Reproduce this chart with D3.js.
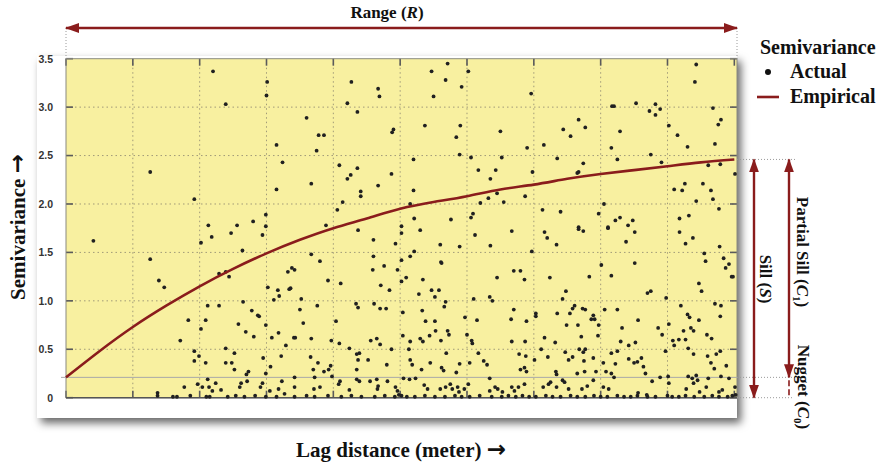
<!DOCTYPE html>
<html>
<head>
<meta charset="utf-8">
<script src="https://cdn.jsdelivr.net/npm/d3@7"></script>
<style>
  body { margin: 0; background: #fff; }
  svg { display: block; }
  .serif { font-family: "Liberation Serif", "Times New Roman", serif; font-weight: bold; fill: #111; }
  .arr { font-family: "DejaVu Sans", sans-serif; font-weight: bold; }
</style>
</head>
<body>
<svg id="chart" width="884" height="468"></svg>
<script>

// Axis ticks
var lagTicks = [0, 1000, 2000, 3000, 4000, 5000, 6000, 7000, 8000, 9000, 10000];
var semiTicks = [0, 0.5, 1.0, 1.5, 2.0, 2.5, 3.0, 3.5];
var semiTickLabels = ["0", "0.5", "1.0", "1.5", "2.0", "2.5", "3.0", "3.5"];

// Empirical (fitted) semivariogram, read every 500 m
var empiricalLag = [0, 500, 1000, 1500, 2000, 2500, 3000, 3500, 4000, 4500, 5000,
                    5500, 6000, 6500, 7000, 7500, 8000, 8500, 9000, 9500, 10000];
var empiricalSemi = [0.21, 0.48, 0.73, 0.95, 1.15, 1.33, 1.49, 1.63, 1.75, 1.85, 1.95,
                     2.02, 2.08, 2.15, 2.20, 2.26, 2.31, 2.35, 2.39, 2.43, 2.46];

// Model parameters shown by the annotations
var nugget = 0.21;
var sill = 2.46;

// Actual semivariance points [lag, semivariance]
var actualUpper = [
  [2200,3.37],[3010,3.26],[3000,3.12],[2390,3.03],[3150,2.61],[3240,2.43],[1260,2.33],[3150,2.15],[1920,2.05],
  [2990,1.89],[2800,1.82],[2560,1.78],[2130,1.78],[2990,1.77],
  [5710,3.45],[5470,3.37],[6020,3.37],[5680,3.28],[4270,3.26],[4670,3.19],[5920,3.21],[4690,3.11],[5500,3.11],
  [4210,3.04],[4360,2.95],[3600,2.89],[5370,2.81],[5900,2.81],[4900,2.77],[4880,2.74],[3780,2.71],[3860,2.71],
  [6500,2.75],[5840,2.69],[3750,2.55],[5890,2.51],[6060,2.48],[6520,2.48],[5200,2.46],[4090,2.40],[4360,2.37],
  [6170,2.35],[6430,2.35],[4260,2.30],[4210,2.26],[4870,2.31],[6350,2.26],[3670,2.21],[4670,2.19],[5200,2.14],
  [4410,2.13],[4410,2.08],[6450,2.11],[6320,2.06],[4140,2.02],[6200,2.01],[6550,2.02],[5150,2.00],[4060,1.94],
  [6090,1.90],[6060,1.86],[5210,1.85],[5760,1.84],[3890,1.78],[5020,1.77],
  [9430,3.44],[9410,3.26],[6960,3.14],[8170,3.01],[8200,3.01],[8530,3.04],[8820,3.03],[8730,2.96],[8890,2.98],
  [8820,2.92],[9680,2.99],[9800,2.87],[9760,2.82],[7670,2.87],[7770,2.79],[9020,2.81],[7440,2.77],[7550,2.70],
  [8290,2.75],[9150,2.71],[6900,2.58],[7150,2.61],[8160,2.58],[9300,2.59],[9710,2.62],[8750,2.51],[7350,2.47],
  [8250,2.46],[8910,2.43],[7740,2.42],[9610,2.40],[9790,2.41],[7670,2.33],[7650,2.32],[6980,2.33],[10010,2.31],
  [6870,2.08],[9100,2.15],[9260,2.21],[9220,2.14],[9530,2.21],[9650,2.14],[9680,2.05],[9430,2.03],[9770,1.95],
  [8050,2.00],[7130,1.94],[7400,1.92],[7970,1.90],[9180,1.85],[9320,1.88],[8290,1.86],[8220,1.83],[8480,1.83],
  [8410,1.78],[8110,1.76],[7670,1.76]
];

var actualLeft = [
  [410,1.62],[1260,1.43],[1390,1.21],[1470,1.14],[2020,1.60],[2180,1.66],[2470,1.70],[2940,1.68],[2640,1.52],
  [2290,1.28],[2390,1.30],[2440,1.25],[3320,1.30],[3020,1.14],[3170,1.11],[3190,1.05],[3110,1.01],[3340,1.12],
  [2120,0.95],[2290,0.95],[2650,0.99],[2780,0.90],[2870,0.85],[2890,0.84],[1830,0.80],[2090,0.80],[2580,0.76],
  [2990,0.75],[2020,0.71],[2690,0.68],[2810,0.63],[3180,0.67],[3080,0.62],[3290,0.54],[1710,0.59],[1920,0.48],
  [1990,0.43],[1920,0.38],[2090,0.36],[2390,0.51],[2520,0.46],[2390,0.36],[2480,0.36],[2520,0.29],[2950,0.41],
  [3220,0.43],[3060,0.32],[2990,0.25],[2730,0.27],[2700,0.24],[2120,0.19],[2240,0.15],[1970,0.14],[1770,0.11],
  [2040,0.11],[2140,0.11],[2190,0.07],[2320,0.08],[2620,0.15],[2600,0.11],[2710,0.17],[2940,0.15],[2910,0.11],
  [3050,0.07],[3230,0.17],[3180,0.09],[3270,0.04],[1370,0.05],[1370,0.02],[1600,0.01],[1660,0.01],[1860,0.02],
  [2100,0.01],[2150,0.01],[2420,0.01],[2540,0.02],[2670,0.01],[2830,0.02],[2990,0.01],[3150,0.01]
];

var actualMiddle = [
  [4370,1.73],[5300,1.73],[6120,1.68],[6670,1.72],[4600,1.63],[4930,1.59],[5020,1.70],[5600,1.58],[5890,1.56],
  [6350,1.57],[3670,1.48],[3800,1.41],[4600,1.46],[5150,1.46],[5210,1.51],[5020,1.42],[5610,1.40],[5620,1.39],
  [3380,1.34],[3420,1.32],[4590,1.32],[4760,1.36],[4960,1.32],[5090,1.24],[5020,1.20],[5340,1.22],[6450,1.24],
  [3920,1.21],[4110,1.18],[3360,1.13],[4710,1.16],[4840,1.11],[5280,1.07],[5470,1.11],[5580,1.11],[5520,1.04],
  [5680,0.99],[5660,0.94],[6100,1.02],[6340,1.04],[6380,1.00],[3520,1.02],[3500,0.91],[3760,0.95],[4340,0.97],
  [4370,0.93],[4610,0.97],[4700,0.92],[4790,0.92],[5040,0.88],[5330,0.90],[5380,0.79],[5520,0.79],[5970,0.83],
  [6150,0.80],[6660,0.81],[3550,0.77],[4040,0.79],[3410,0.62],[3430,0.62],[3670,0.61],[3970,0.59],[4090,0.56],
  [4560,0.59],[4650,0.61],[4700,0.55],[5040,0.64],[5150,0.58],[5300,0.61],[5340,0.58],[5440,0.64],[5530,0.69],
  [5710,0.69],[5730,0.65],[5610,0.59],[6000,0.65],[6070,0.59],[6080,0.56],[6670,0.58],[4240,0.51],[4390,0.46],
  [4350,0.45],[4870,0.50],[5130,0.50],[5690,0.46],[6170,0.46],[6250,0.38],[6300,0.34],[3660,0.42],[3770,0.36],
  [3700,0.29],[3860,0.27],[3930,0.29],[3960,0.33],[4520,0.39],[4370,0.39],[4800,0.34],[5150,0.39],[5180,0.34],
  [5320,0.29],[5450,0.36],[5620,0.31],[5650,0.28],[5840,0.26],[5890,0.35],[6040,0.36],[4350,0.29],[3420,0.21],
  [3420,0.11],[3720,0.21],[3800,0.11],[3710,0.09],[3980,0.22],[4100,0.17],[4080,0.14],[4240,0.08],[4350,0.19],
  [4390,0.17],[4550,0.17],[4650,0.19],[4670,0.12],[4660,0.09],[4810,0.17],[4930,0.11],[4960,0.07],[4980,0.03],
  [5050,0.20],[5140,0.19],[5230,0.20],[5360,0.13],[5410,0.09],[5600,0.09],[5680,0.11],[5750,0.14],[5780,0.09],
  [5860,0.11],[5880,0.06],[5960,0.09],[6020,0.14],[6340,0.20],[6420,0.11],[6460,0.09],[6530,0.06],[6670,0.11],
  [6340,0.07],
  [3420,0.01],[3600,0.02],[3720,0.01],[3920,0.02],[4120,0.01],[4270,0.02],[4420,0.01],[4620,0.01],[4770,0.02],
  [4920,0.01],[5020,0.02],[5100,0.01],[5220,0.01],[5370,0.02],[5520,0.01],[5670,0.01],[5820,0.02],[5920,0.01],
  [6040,0.01],[6190,0.02],[6370,0.01],[6520,0.01],[6620,0.02]
];

var actualRight = [
  [7160,1.71],[7200,1.65],[7340,1.58],[7670,1.74],[7740,1.72],[8110,1.75],[8380,1.61],[8510,1.71],[8510,1.39],
  [9180,1.71],[9270,1.59],[9380,1.65],[9780,1.56],[9550,1.49],[9570,1.41],[9840,1.44],[9870,1.34],[9920,1.38],
  [9960,1.25],[9980,1.25],[6970,1.51],[6700,1.31],[6800,1.31],[6860,1.22],[7240,1.24],[7830,1.25],[8010,1.37],
  [8160,1.26],[8700,1.08],[8750,1.10],[8980,1.03],[9470,1.18],[9510,1.10],[7480,1.10],[7430,1.02],[6700,0.91],
  [7030,0.87],[7030,0.84],[6890,0.79],[7350,0.87],[7490,0.75],[7540,0.87],[7580,0.92],[7610,0.95],[7730,0.92],
  [7770,0.91],[7660,0.75],[7890,0.85],[7860,0.81],[7910,0.81],[7970,0.75],[8060,0.91],[8250,0.91],[8560,0.80],
  [8320,0.72],[7960,0.64],[7710,0.63],[7160,0.62],[6870,0.58],[7320,0.57],[8300,0.58],[8420,0.54],[8520,0.57],
  [8860,0.72],[8920,0.65],[9020,0.76],[9200,0.95],[9300,0.86],[9330,0.83],[9350,0.72],[9390,0.69],[9470,0.80],
  [9240,0.69],[9170,0.60],[9080,0.59],[9270,0.60],[9710,0.97],[9800,0.95],[9790,0.84],[9590,0.65],[9660,0.61],
  [9310,0.51],[9390,0.45],[9100,0.54],[8970,0.48],[9600,0.43],[9730,0.45],[9790,0.48],[9650,0.36],[9700,0.30],
  [9880,0.33],[6780,0.45],[6880,0.43],[7110,0.50],[7210,0.42],[7010,0.39],[6800,0.29],[6860,0.31],[6890,0.27],
  [7470,0.47],[7580,0.42],[7520,0.39],[7680,0.50],[7770,0.50],[7740,0.47],[7750,0.38],[7890,0.41],[7330,0.27],
  [7340,0.24],[7760,0.27],[7650,0.25],[7930,0.27],[8040,0.36],[8160,0.46],[8250,0.48],[8080,0.27],[8160,0.25],
  [8200,0.21],[8420,0.40],[8500,0.36],[8550,0.37],[8610,0.41],[8640,0.32],[8670,0.25],[8220,0.35],[8770,0.17],
  [8890,0.21],[9010,0.22],[9020,0.15],[9310,0.22],[9370,0.20],[9430,0.23],[9450,0.18],[9390,0.15],[9610,0.20],
  [9800,0.22],[9920,0.20],[9580,0.11],[9770,0.06],[7250,0.16],[7220,0.14],[7140,0.11],[7430,0.18],[7460,0.16],
  [7340,0.11],[7520,0.09],[6860,0.14],[6770,0.11],[6710,0.07],[7890,0.18],[7800,0.12],[7720,0.09],[8040,0.11],
  [8120,0.09],[8560,0.05],[8690,0.03],[9280,0.09],[9480,0.06],[9820,0.08],[10010,0.11],[10020,0.03],
  [6730,0.01],[6830,0.02],[6930,0.01],[7030,0.01],[7180,0.02],[7280,0.01],[7400,0.01],[7550,0.02],[7650,0.01],
  [7770,0.01],[7900,0.02],[8000,0.01],[8100,0.01],[8250,0.02],[8350,0.01],[8450,0.01],[8550,0.02],[8700,0.01],
  [8820,0.01],[9000,0.02],[9070,0.01],[9170,0.01],[9270,0.02],[9400,0.01],[9550,0.01],[9670,0.02],[9770,0.01],
  [9900,0.01],[9970,0.02]
];

(function(d3) {

  var actual = actualUpper.concat(actualLeft, actualMiddle, actualRight);
  var empirical = empiricalLag.map(function(d, i) { return [d, empiricalSemi[i]]; });

  var red = "#8a1c1c";

  // Plot frame
  var plot = { left: 66, right: 737, top: 58.7, bottom: 397.7 };

  var x = d3.scaleLinear()
    .domain([0, 10040])
    .range([plot.left, plot.right])
    ;

  var y = d3.scaleLinear()
    .domain([0, 3.5])
    .range([plot.bottom, plot.top])
    ;

  var svg = d3.select("#chart");

  //** Defs **//

  var defs = svg.append("defs");

  defs.append("filter")
    .attr("id", "shadow")
    .attr("x", "-5%").attr("y", "-5%")
    .attr("width", "115%").attr("height", "120%")
    .append("feDropShadow")
    .attr("dx", 4)
    .attr("dy", 5)
    .attr("stdDeviation", 4.5)
    .attr("flood-color", "#000")
    .attr("flood-opacity", 0.6)
    ;

  defs.append("clipPath")
    .attr("id", "panelClip")
    .append("rect")
    .attr("x", 30).attr("y", 50)
    .attr("width", plot.right - 30).attr("height", 380)
    ;

  defs.append("marker")
    .attr("id", "arrow")
    .attr("viewBox", "0 -5 14 10")
    .attr("refX", 13)
    .attr("refY", 0)
    .attr("markerUnits", "userSpaceOnUse")
    .attr("markerWidth", 14)
    .attr("markerHeight", 10)
    .attr("orient", "auto-start-reverse")
    .append("path")
    .attr("d", "M0,-5L14,0L0,5Z")
    .attr("fill", red)
    ;

  //** Panel **//

  svg.append("rect")
    .attr("x", 37)
    .attr("y", 56)
    .attr("width", plot.right - 37)
    .attr("height", 362)
    .attr("fill", "#fff")
    .attr("filter", "url(#shadow)")
    ;

  svg.append("rect")
    .attr("x", plot.left)
    .attr("y", plot.top)
    .attr("width", plot.right - plot.left)
    .attr("height", plot.bottom - plot.top)
    .attr("fill", "#f8f0a0")
    ;

  // Grid
  var grid = svg.append("g")
    .attr("stroke", "#a09a78")
    .attr("stroke-width", 1)
    .attr("stroke-dasharray", "1.5,3")
    ;

  grid.selectAll("line.gx")
    .data(lagTicks.filter(function(d) { return d > 0 && d < 10000; }))
    .enter().append("line")
    .attr("class", "gx")
    .attr("x1", function(d) { return x(d); })
    .attr("x2", function(d) { return x(d); })
    .attr("y1", plot.top)
    .attr("y2", plot.bottom)
    ;

  grid.selectAll("line.gy")
    .data(semiTicks.filter(function(d) { return d > 0 && d < 3.5; }))
    .enter().append("line")
    .attr("class", "gy")
    .attr("x1", plot.left)
    .attr("x2", plot.right)
    .attr("y1", function(d) { return y(d); })
    .attr("y2", function(d) { return y(d); })
    ;

  // Inward ticks on all four sides
  var ticks = svg.append("g")
    .attr("stroke", "#5a5a5a")
    .attr("stroke-width", 1.6)
    ;
  var tl = 7;

  lagTicks.forEach(function(d) {
    ticks.append("line").attr("x1", x(d)).attr("x2", x(d)).attr("y1", plot.top).attr("y2", plot.top + tl);
    ticks.append("line").attr("x1", x(d)).attr("x2", x(d)).attr("y1", plot.bottom).attr("y2", plot.bottom - tl);
  });
  semiTicks.forEach(function(d) {
    ticks.append("line").attr("x1", plot.left).attr("x2", plot.left + tl).attr("y1", y(d)).attr("y2", y(d));
    ticks.append("line").attr("x1", plot.right).attr("x2", plot.right - tl).attr("y1", y(d)).attr("y2", y(d));
  });

  // Frame
  svg.append("rect")
    .attr("x", plot.left)
    .attr("y", plot.top)
    .attr("width", plot.right - plot.left)
    .attr("height", plot.bottom - plot.top)
    .attr("fill", "none")
    .attr("stroke", "#8a8a80")
    .attr("stroke-width", 1)
    ;

  svg.append("line")
    .attr("x1", plot.left).attr("x2", plot.right)
    .attr("y1", plot.bottom).attr("y2", plot.bottom)
    .attr("stroke", "#555")
    .attr("stroke-width", 1.5)
    ;

  // Axes labels (tick text only)
  var xAxis = svg.append("g")
    .attr("transform", "translate(0," + plot.bottom + ")")
    .attr("clip-path", "url(#panelClip)")
    .call(d3.axisBottom(x).tickValues(lagTicks).tickSize(0).tickPadding(7))
    ;
  xAxis.select(".domain").remove();
  xAxis.selectAll("text")
    .attr("fill", "#5a5a5a")
    .style("font-family", "'Liberation Sans', Arial, sans-serif")
    .style("font-size", "12px")
    .attr("textLength", function(d) { return String(d).length * 5.4; })
    .attr("lengthAdjust", "spacingAndGlyphs")
    ;

  var yAxis = svg.append("g")
    .attr("transform", "translate(" + plot.left + ",0)")
    .call(d3.axisLeft(y).tickValues(semiTicks)
      .tickFormat(function(d, i) { return semiTickLabels[i]; })
      .tickSize(0).tickPadding(13))
    ;
  yAxis.select(".domain").remove();
  yAxis.selectAll("text")
    .attr("fill", "#333")
    .style("font-family", "'Liberation Sans', Arial, sans-serif")
    .style("font-size", "10.5px")
    .style("font-weight", "bold")
    ;

  // Nugget guide line across the plot
  svg.append("line")
    .attr("x1", plot.left - 5).attr("x2", plot.right)
    .attr("y1", y(nugget)).attr("y2", y(nugget))
    .attr("stroke", "#a9a9a9")
    .attr("stroke-width", 1)
    ;

  //** Points **//

  svg.append("g")
    .selectAll("circle")
    .data(actual)
    .enter().append("circle")
    .attr("cx", function(d) { return x(d[0]); })
    .attr("cy", function(d) { return y(d[1]); })
    .attr("r", 1.9)
    .attr("fill", "#202020")
    ;

  //** Empirical curve **//

  var line = d3.line()
    .x(function(d) { return x(d[0]); })
    .y(function(d) { return y(d[1]); })
    .curve(d3.curveNatural)
    ;

  svg.append("path")
    .datum(empirical)
    .attr("d", line)
    .attr("fill", "none")
    .attr("stroke", red)
    .attr("stroke-width", 2.6)
    ;

  //** Annotations **//

  var guide = svg.append("g")
    .attr("stroke", "#9a9a9a")
    .attr("stroke-width", 1)
    .attr("stroke-dasharray", "1,2")
    ;

  // Range guides
  guide.append("line").attr("x1", x(0)).attr("x2", x(0)).attr("y1", 28).attr("y2", plot.top);
  guide.append("line").attr("x1", plot.right).attr("x2", plot.right).attr("y1", 28).attr("y2", plot.top);
  // Sill, nugget and zero guides to the right
  guide.append("line").attr("x1", plot.right).attr("x2", 797).attr("y1", y(sill)).attr("y2", y(sill));
  guide.append("line").attr("x1", plot.right).attr("x2", 797).attr("y1", y(nugget)).attr("y2", y(nugget));
  guide.append("line").attr("x1", plot.right).attr("x2", 792).attr("y1", y(0)).attr("y2", y(0));

  function arrow(x1, y1, x2, y2, both) {
    var p = svg.append("line")
      .attr("x1", x1).attr("y1", y1)
      .attr("x2", x2).attr("y2", y2)
      .attr("stroke", red)
      .attr("stroke-width", 2.4)
      .attr("marker-end", "url(#arrow)")
      ;
    if (both) p.attr("marker-start", "url(#arrow)");
    return p;
  }

  // Range (R)
  arrow(x(0), 28, plot.right, 28, true);

  svg.append("text")
    .attr("class", "serif")
    .attr("x", 387)
    .attr("y", 18)
    .attr("text-anchor", "middle")
    .style("font-size", "17px")
    .html('Range (<tspan font-style="italic">R</tspan>)')
    ;

  // Sill (S)
  arrow(754, y(sill), 754, y(0), true);
  // Partial sill (C1)
  arrow(789, y(sill), 789, y(nugget), true);
  // Nugget (C0)
  svg.append("line")
    .attr("x1", 789).attr("x2", 789)
    .attr("y1", y(nugget) + 3).attr("y2", y(0))
    .attr("stroke", red)
    .attr("stroke-width", 1.6)
    .attr("stroke-dasharray", "6,3")
    ;

  function sideLabel(xp, yp, html) {
    svg.append("text")
      .attr("class", "serif")
      .attr("transform", "translate(" + xp + "," + yp + ") rotate(90)")
      .attr("text-anchor", "middle")
      .style("font-size", "17px")
      .html(html)
      ;
  }

  sideLabel(760, 279, 'Sill  (<tspan font-style="italic">S</tspan>)');
  sideLabel(797, 252, 'Partial Sill  (<tspan font-style="italic">C</tspan><tspan font-size="11px" dy="4">1</tspan><tspan dy="-4">)</tspan>');
  sideLabel(798, 387, 'Nugget (<tspan font-style="italic">C</tspan><tspan font-size="11px" dy="4">0</tspan><tspan dy="-4">)</tspan>');

  //** Legend **//

  svg.append("text")
    .attr("class", "serif")
    .attr("x", 760)
    .attr("y", 54)
    .style("font-size", "20px")
    .text("Semivariance")
    ;

  svg.append("circle")
    .attr("cx", 768)
    .attr("cy", 72)
    .attr("r", 3)
    .attr("fill", "#111")
    ;

  svg.append("text")
    .attr("class", "serif")
    .attr("x", 790)
    .attr("y", 78)
    .style("font-size", "20px")
    .text("Actual")
    ;

  svg.append("line")
    .attr("x1", 757).attr("x2", 779)
    .attr("y1", 97).attr("y2", 97)
    .attr("stroke", red)
    .attr("stroke-width", 2.6)
    ;

  svg.append("text")
    .attr("class", "serif")
    .attr("x", 790)
    .attr("y", 103)
    .style("font-size", "20px")
    .text("Empirical")
    ;

  //** Axis titles **//

  svg.append("text")
    .attr("class", "serif")
    .attr("x", 401)
    .attr("y", 457)
    .attr("text-anchor", "middle")
    .style("font-size", "21px")
    .html('Lag distance (meter) <tspan class="arr" font-size="23px">\u2192</tspan>')
    ;

  svg.append("text")
    .attr("class", "serif")
    .attr("transform", "translate(25,227) rotate(-90)")
    .attr("text-anchor", "middle")
    .style("font-size", "21px")
    .html('Semivariance <tspan class="arr" font-size="23px">\u2192</tspan>')
    ;

})(d3);
</script>
</body>
</html>
